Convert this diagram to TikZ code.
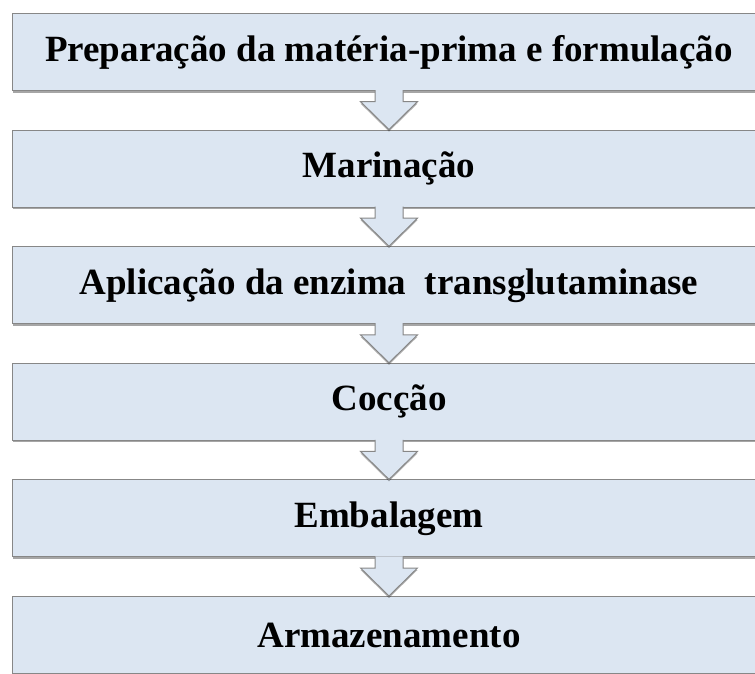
\documentclass[tikz,border=0pt]{standalone}
\usepackage{fontspec}
\setmainfont{Liberation Serif}
\usetikzlibrary{calc,shadows}

\definecolor{stepfill}{RGB}{220,230,242}
\definecolor{stepline}{RGB}{135,135,135}

\begin{document}
\begin{tikzpicture}[x=1pt,y=1pt]

    \tikzset{
      stepbox/.style={
        draw=stepline,
        line width=1pt,
        fill=stepfill,
        minimum width=754pt,
        minimum height=77pt,
        inner sep=0pt,
        font=\fontsize{37}{41}\selectfont\bfseries,
        drop shadow={shadow xshift=0.5pt,shadow yshift=-2pt,opacity=0.35,fill=black},
      },
      flowarrow/.style={
        draw=stepline,
        line width=1pt,
        fill=stepfill,
        drop shadow={shadow xshift=0pt,shadow yshift=-2pt,opacity=0.3,fill=black},
      },
    }
    \useasboundingbox (0,0) rectangle (755,-673);
    \clip (0,0) rectangle (755,-673);

	\node[stepbox] (prep) at (389,-52) {Prepara\c{c}\~ao da mat\'eria-prima e formula\c{c}\~ao};
	\node[stepbox] (marin) at (389,-168.6) {Marina\c{c}\~ao};
	\node[stepbox] (enzima) at (389,-285.2) {Aplica\c{c}\~ao da enzima\ \ transglutaminase};
	\node[stepbox] (coccao) at (389,-401.8) {Coc\c{c}\~ao};
	\node[stepbox] (embal) at (389,-518.4) {Embalagem};
	\node[stepbox] (armaz) at (389,-635) {Armazenamento};

	\filldraw[flowarrow] ($(prep.south)+(-14,1)$) |- ($(marin.north)+(-28.5,28)$) -- (marin.north) -- ++(28.5,28) -| ($(prep.south)+(14,1)$);
	\filldraw[flowarrow] ($(marin.south)+(-14,1)$) |- ($(enzima.north)+(-28.5,28)$) -- (enzima.north) -- ++(28.5,28) -| ($(marin.south)+(14,1)$);
	\filldraw[flowarrow] ($(enzima.south)+(-14,1)$) |- ($(coccao.north)+(-28.5,28)$) -- (coccao.north) -- ++(28.5,28) -| ($(enzima.south)+(14,1)$);
	\filldraw[flowarrow] ($(coccao.south)+(-14,1)$) |- ($(embal.north)+(-28.5,28)$) -- (embal.north) -- ++(28.5,28) -| ($(coccao.south)+(14,1)$);
	\filldraw[flowarrow] ($(embal.south)+(-14,1)$) |- ($(armaz.north)+(-28.5,28)$) -- (armaz.north) -- ++(28.5,28) -| ($(embal.south)+(14,1)$);

\end{tikzpicture}
\end{document}
